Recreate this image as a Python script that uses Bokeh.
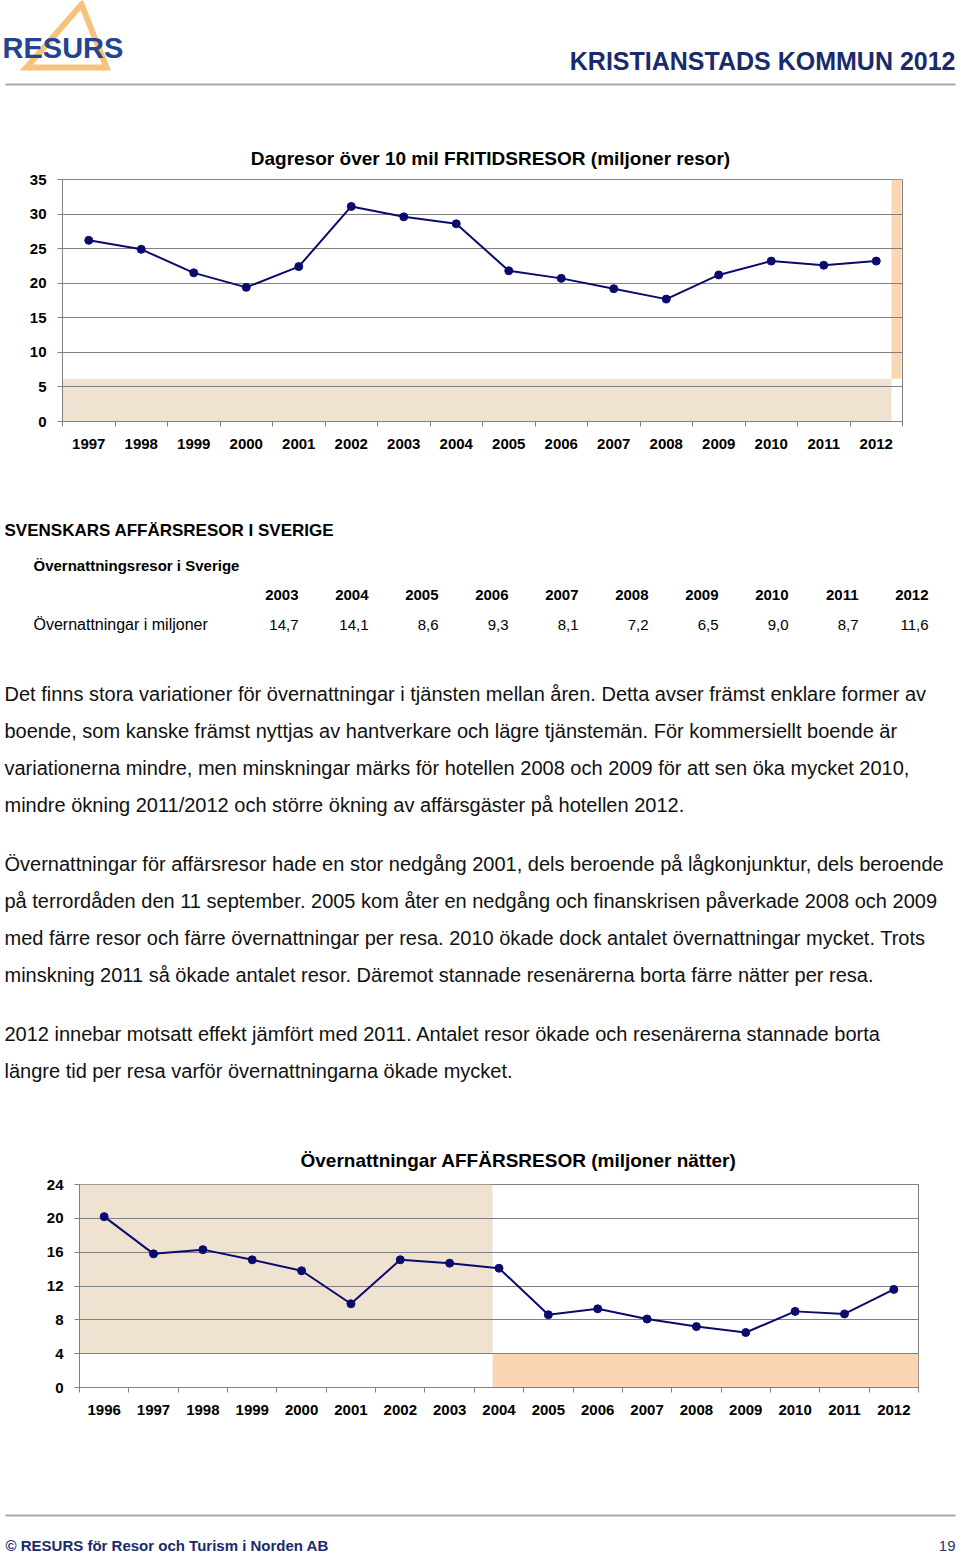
from bokeh.plotting import figure
from bokeh.models import Range1d, FixedTicker, BoxAnnotation
from bokeh.core.properties import value
from bokeh.embed import file_html
from bokeh.resources import INLINE

# ---------------- data ----------------
YEARS1 = [1997, 1998, 1999, 2000, 2001, 2002, 2003, 2004,
          2005, 2006, 2007, 2008, 2009, 2010, 2011, 2012]
FRITID = [26.2, 24.9, 21.5, 19.4, 22.4, 31.1, 29.6, 28.6,
          21.8, 20.7, 19.2, 17.7, 21.2, 23.2, 22.6, 23.2]
Y1_TICKS = [0, 5, 10, 15, 20, 25, 30, 35]

YEARS2 = [1996, 1997, 1998, 1999, 2000, 2001, 2002, 2003, 2004,
          2005, 2006, 2007, 2008, 2009, 2010, 2011, 2012]
AFFAR = [20.2, 15.8, 16.3, 15.1, 13.8, 9.9, 15.1, 14.7, 14.1,
         8.6, 9.3, 8.1, 7.2, 6.5, 9.0, 8.7, 11.6]
Y2_TICKS = [0, 4, 8, 12, 16, 20, 24]

TABLE_YEARS = ["2003", "2004", "2005", "2006", "2007", "2008", "2009", "2010", "2011", "2012"]
TABLE_VALUES = ["14,7", "14,1", "8,6", "9,3", "8,1", "7,2", "6,5", "9,0", "8,7", "11,6"]

TITLE1 = "Dagresor över 10 mil FRITIDSRESOR (miljoner resor)"
TITLE2 = "Övernattningar AFFÄRSRESOR (miljoner nätter)"

PARAGRAPHS = [
    ["Det finns stora variationer för övernattningar i tjänsten mellan åren. Detta avser främst enklare former av",
     "boende, som kanske främst nyttjas av hantverkare och lägre tjänstemän. För kommersiellt boende är",
     "variationerna mindre, men minskningar märks för hotellen 2008 och 2009 för att sen öka mycket 2010,",
     "mindre ökning 2011/2012 och större ökning av affärsgäster på hotellen 2012."],
    ["Övernattningar för affärsresor hade en stor nedgång 2001, dels beroende på lågkonjunktur, dels beroende",
     "på terrordåden den 11 september. 2005 kom åter en nedgång och finanskrisen påverkade 2008 och 2009",
     "med färre resor och färre övernattningar per resa. 2010 ökade dock antalet övernattningar mycket. Trots",
     "minskning 2011 så ökade antalet resor. Däremot stannade resenärerna borta färre nätter per resa."],
    ["2012 innebar motsatt effekt jämfört med 2011. Antalet resor ökade och resenärerna stannade borta",
     "längre tid per resa varför övernattningarna ökade mycket."],
]

# ---------------- style ----------------
SANS = "Liberation Sans"
NAVY = "#1b2a6b"
LINE = "#0b0b6e"
GRID = "#808080"
TAN = "#f0e2d0"
ORANGE = "#fbd6b4"
W = 960


def canvas(h):
    p = figure(width=W, height=h, x_range=Range1d(0, W), y_range=Range1d(h, 0),
               output_backend="svg", toolbar_location=None, min_border=0,
               x_axis_location=None, y_axis_location=None)
    p.grid.visible = False
    p.outline_line_color = None
    p.background_fill_color = "white"
    p.border_fill_color = "white"
    return p


def txt(p, x, y, t, font=SANS, size="15px", style="normal", color="black", align="left"):
    p.text(x=x if isinstance(x, list) else [x], y=y if isinstance(y, list) else [y],
           text=t if isinstance(t, list) else [t],
           text_font=value(font), text_font_size=size, text_font_style=style,
           text_color=color, text_align=align, text_baseline="middle")


def chart(h, years, vals, yticks, left, right, top, bottom, bands):
    p = figure(width=W, height=h, output_backend="svg", toolbar_location=None,
               x_range=Range1d(years[0] - 0.5, years[-1] + 0.5),
               y_range=Range1d(yticks[0], yticks[-1]),
               min_border_left=left, min_border_right=right,
               min_border_top=top, min_border_bottom=bottom)
    p.background_fill_color = "white"
    p.border_fill_color = "white"
    p.outline_line_color = GRID
    p.xgrid.visible = False
    p.ygrid.grid_line_color = GRID
    p.ygrid.grid_line_width = 1
    for (l, r, b, t, c) in bands:
        p.add_layout(BoxAnnotation(left=l, right=r, bottom=b, top=t, fill_color=c,
                                   fill_alpha=1.0, line_color=None, level="image"))
    xa = p.xaxis[0]
    xa.ticker = FixedTicker(ticks=years,
                            minor_ticks=[y - 0.5 for y in years] + [years[-1] + 0.5])
    xa.major_tick_line_color = None
    xa.major_tick_out = 0
    xa.major_tick_in = 0
    xa.minor_tick_line_color = GRID
    xa.minor_tick_in = 0
    xa.minor_tick_out = 5
    xa.axis_line_color = GRID
    xa.major_label_standoff = 12
    ya = p.yaxis[0]
    ya.ticker = FixedTicker(ticks=yticks)
    ya.minor_tick_line_color = None
    ya.major_tick_out = 5
    ya.major_tick_in = 0
    ya.major_tick_line_color = GRID
    ya.axis_line_color = GRID
    ya.major_label_standoff = 11
    for a in (xa, ya):
        a.major_label_text_font = SANS
        a.major_label_text_font_size = "15px"
        a.major_label_text_font_style = "bold"
        a.major_label_text_color = "black"
    p.line(years, vals, line_color=LINE, line_width=2)
    p.scatter(years, vals, size=8, fill_color=LINE, line_color=LINE)
    return p


# ---------------- A: header + chart 1 title (0-170) ----------------
A = canvas(170)
A.patch([26, 81, 106], [67, 4, 67], fill_color="white", line_color="#f6c27c",
        line_width=6, line_join="miter")
txt(A, 2, 47, "RESURS", size="29px", style="bold", color="#25448f")
txt(A, 955, 60, "KRISTIANSTADS KOMMUN 2012", size="25px", style="bold",
    color=NAVY, align="right")
A.segment(x0=[5], y0=[84], x1=[955], y1=[84], line_color="#a6a6a6", line_width=2)
txt(A, 490, 158, TITLE1, size="19px", style="bold", align="center")

# ---------------- B: chart 1 (170-465) ----------------
B = chart(295, YEARS1, FRITID, Y1_TICKS, left=62, right=58, top=9, bottom=44,
          bands=[(1996.5, 2012.29, 0, 6.2, TAN), (2012.29, 2012.48, 6.2, 35, ORANGE)])

# ---------------- C: table + text + chart 2 title (465-1172) ----------------
C0 = 465
C = canvas(1172 - C0)
txt(C, 4, 530 - C0, "SVENSKARS AFFÄRSRESOR I SVERIGE", size="17px", style="bold")
txt(C, 33, 565 - C0, "Övernattningsresor i Sverige", size="15px", style="bold")
col_x = [298 + 70 * i for i in range(len(TABLE_YEARS))]
txt(C, col_x, [594 - C0] * len(col_x), TABLE_YEARS, size="15px",
    style="bold", align="right")
txt(C, 33, 624 - C0, "Övernattningar i miljoner", size="16px")
txt(C, col_x, [624 - C0] * len(col_x), TABLE_VALUES, size="15px", align="right")

ys, lines = [], []
y = 693
for para in PARAGRAPHS:
    for ln in para:
        ys.append(y - C0)
        lines.append(ln)
        y += 37
    y += 22
txt(C, [4] * len(lines), ys, lines, size="20px", color="#111111")
txt(C, 518, 1160 - C0, TITLE2, size="19px", style="bold", align="center")

# ---------------- D: chart 2 (1172-1430) ----------------
D = chart(258, YEARS2, AFFAR, Y2_TICKS, left=79, right=42, top=12, bottom=43,
          bands=[(1995.5, 2003.87, 4, 24, TAN), (2003.87, 2012.5, 0, 4, ORANGE)])

# ---------------- E: footer (1430-1556) ----------------
E0 = 1430
E = canvas(1556 - E0)
E.segment(x0=[5], y0=[1515 - E0], x1=[955], y1=[1515 - E0], line_color="#a6a6a6", line_width=2)
txt(E, 5, 1545 - E0, "© RESURS för Resor och Turism i Norden AB",
    size="15px", style="bold", color=NAVY)
txt(E, 955, 1545 - E0, "19", size="15px", color="#333366", align="right")

open("out.html", "w").write(file_html([A, B, C, D, E], INLINE))
